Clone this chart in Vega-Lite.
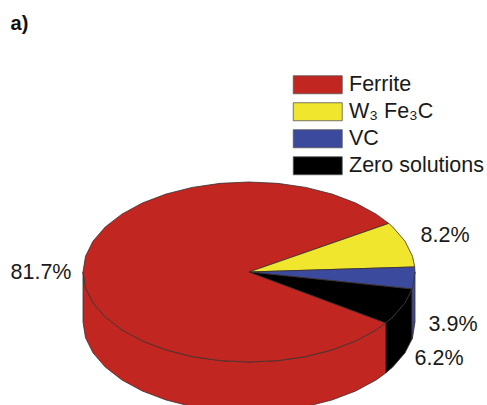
{"$schema":"https://vega.github.io/schema/vega-lite/v6.json","width":487,"height":405,"padding":0,"autosize":{"type":"fit","contains":"padding"},"background":"white","config":{"view":{"stroke":null},"font":"Liberation Sans"},
"layer":[
{"data":{"values":[
{"slice":"Ferrite","part":"side red","i":0,"x":-1,"y":0},{"slice":"Ferrite","part":"side red","i":1,"x":-0.985,"y":-0.174},{"slice":"Ferrite","part":"side red","i":2,"x":-0.94,"y":-0.342},{"slice":"Ferrite","part":"side red","i":3,"x":-0.866,"y":-0.5},{"slice":"Ferrite","part":"side red","i":4,"x":-0.766,"y":-0.643},{"slice":"Ferrite","part":"side red","i":5,"x":-0.643,"y":-0.766},{"slice":"Ferrite","part":"side red","i":6,"x":-0.5,"y":-0.866},{"slice":"Ferrite","part":"side red","i":7,"x":-0.342,"y":-0.94},{"slice":"Ferrite","part":"side red","i":8,"x":-0.174,"y":-0.985},{"slice":"Ferrite","part":"side red","i":9,"x":0,"y":-1},{"slice":"Ferrite","part":"side red","i":10,"x":0.174,"y":-0.985},{"slice":"Ferrite","part":"side red","i":11,"x":0.342,"y":-0.94},{"slice":"Ferrite","part":"side red","i":12,"x":0.5,"y":-0.866},{"slice":"Ferrite","part":"side red","i":13,"x":0.643,"y":-0.766},{"slice":"Ferrite","part":"side red","i":14,"x":0.766,"y":-0.643},{"slice":"Ferrite","part":"side red","i":15,"x":0.824,"y":-0.566},
{"slice":"Ferrite","part":"side red","i":16,"x":0.824,"y":-1.122},{"slice":"Ferrite","part":"side red","i":17,"x":0.766,"y":-1.199},{"slice":"Ferrite","part":"side red","i":18,"x":0.643,"y":-1.322},{"slice":"Ferrite","part":"side red","i":19,"x":0.5,"y":-1.422},{"slice":"Ferrite","part":"side red","i":20,"x":0.342,"y":-1.496},{"slice":"Ferrite","part":"side red","i":21,"x":0.174,"y":-1.541},{"slice":"Ferrite","part":"side red","i":22,"x":0,"y":-1.556},{"slice":"Ferrite","part":"side red","i":23,"x":-0.174,"y":-1.541},{"slice":"Ferrite","part":"side red","i":24,"x":-0.342,"y":-1.496},{"slice":"Ferrite","part":"side red","i":25,"x":-0.5,"y":-1.422},{"slice":"Ferrite","part":"side red","i":26,"x":-0.643,"y":-1.322},{"slice":"Ferrite","part":"side red","i":27,"x":-0.766,"y":-1.199},{"slice":"Ferrite","part":"side red","i":28,"x":-0.866,"y":-1.056},{"slice":"Ferrite","part":"side red","i":29,"x":-0.94,"y":-0.898},{"slice":"Ferrite","part":"side red","i":30,"x":-0.985,"y":-0.73},{"slice":"Ferrite","part":"side red","i":31,"x":-1,"y":-0.556},{"slice":"Ferrite","part":"side red","i":32,"x":-1,"y":0},
{"slice":"Zero solutions","part":"side black","i":0,"x":0.824,"y":-0.566},{"slice":"Zero solutions","part":"side black","i":1,"x":0.866,"y":-0.5},{"slice":"Zero solutions","part":"side black","i":2,"x":0.94,"y":-0.342},{"slice":"Zero solutions","part":"side black","i":3,"x":0.982,"y":-0.189},{"slice":"Zero solutions","part":"side black","i":4,"x":0.982,"y":-0.745},{"slice":"Zero solutions","part":"side black","i":5,"x":0.94,"y":-0.898},{"slice":"Zero solutions","part":"side black","i":6,"x":0.866,"y":-1.056},{"slice":"Zero solutions","part":"side black","i":7,"x":0.824,"y":-1.122},{"slice":"Zero solutions","part":"side black","i":8,"x":0.824,"y":-0.566},
{"slice":"VC","part":"side blue","i":0,"x":0.982,"y":-0.189},{"slice":"VC","part":"side blue","i":1,"x":1,"y":0},{"slice":"VC","part":"side blue","i":2,"x":1,"y":-0.556},{"slice":"VC","part":"side blue","i":3,"x":0.985,"y":-0.73},{"slice":"VC","part":"side blue","i":4,"x":0.982,"y":-0.745},{"slice":"VC","part":"side blue","i":5,"x":0.982,"y":-0.189},
{"slice":"Ferrite","part":"top red","i":0,"x":0,"y":0},{"slice":"Ferrite","part":"top red","i":1,"x":0.842,"y":0.54},{"slice":"Ferrite","part":"top red","i":2,"x":0.766,"y":0.643},{"slice":"Ferrite","part":"top red","i":3,"x":0.643,"y":0.766},{"slice":"Ferrite","part":"top red","i":4,"x":0.5,"y":0.866},{"slice":"Ferrite","part":"top red","i":5,"x":0.342,"y":0.94},{"slice":"Ferrite","part":"top red","i":6,"x":0.174,"y":0.985},{"slice":"Ferrite","part":"top red","i":7,"x":0,"y":1},{"slice":"Ferrite","part":"top red","i":8,"x":-0.174,"y":0.985},{"slice":"Ferrite","part":"top red","i":9,"x":-0.342,"y":0.94},{"slice":"Ferrite","part":"top red","i":10,"x":-0.5,"y":0.866},{"slice":"Ferrite","part":"top red","i":11,"x":-0.643,"y":0.766},{"slice":"Ferrite","part":"top red","i":12,"x":-0.766,"y":0.643},{"slice":"Ferrite","part":"top red","i":13,"x":-0.866,"y":0.5},{"slice":"Ferrite","part":"top red","i":14,"x":-0.94,"y":0.342},{"slice":"Ferrite","part":"top red","i":15,"x":-0.985,"y":0.174},{"slice":"Ferrite","part":"top red","i":16,"x":-1,"y":0},{"slice":"Ferrite","part":"top red","i":17,"x":-0.985,"y":-0.174},{"slice":"Ferrite","part":"top red","i":18,"x":-0.94,"y":-0.342},{"slice":"Ferrite","part":"top red","i":19,"x":-0.866,"y":-0.5},{"slice":"Ferrite","part":"top red","i":20,"x":-0.766,"y":-0.643},{"slice":"Ferrite","part":"top red","i":21,"x":-0.643,"y":-0.766},{"slice":"Ferrite","part":"top red","i":22,"x":-0.5,"y":-0.866},{"slice":"Ferrite","part":"top red","i":23,"x":-0.342,"y":-0.94},{"slice":"Ferrite","part":"top red","i":24,"x":-0.174,"y":-0.985},{"slice":"Ferrite","part":"top red","i":25,"x":0,"y":-1},{"slice":"Ferrite","part":"top red","i":26,"x":0.174,"y":-0.985},{"slice":"Ferrite","part":"top red","i":27,"x":0.342,"y":-0.94},{"slice":"Ferrite","part":"top red","i":28,"x":0.5,"y":-0.866},{"slice":"Ferrite","part":"top red","i":29,"x":0.643,"y":-0.766},{"slice":"Ferrite","part":"top red","i":30,"x":0.766,"y":-0.643},{"slice":"Ferrite","part":"top red","i":31,"x":0.824,"y":-0.566},{"slice":"Ferrite","part":"top red","i":32,"x":0,"y":0},
{"slice":"W₃ Fe₃C","part":"top yellow","i":0,"x":0,"y":0},{"slice":"W₃ Fe₃C","part":"top yellow","i":1,"x":0.998,"y":0.056},{"slice":"W₃ Fe₃C","part":"top yellow","i":2,"x":0.985,"y":0.174},{"slice":"W₃ Fe₃C","part":"top yellow","i":3,"x":0.94,"y":0.342},{"slice":"W₃ Fe₃C","part":"top yellow","i":4,"x":0.866,"y":0.5},{"slice":"W₃ Fe₃C","part":"top yellow","i":5,"x":0.842,"y":0.54},{"slice":"W₃ Fe₃C","part":"top yellow","i":6,"x":0,"y":0},
{"slice":"VC","part":"top blue","i":0,"x":0,"y":0},{"slice":"VC","part":"top blue","i":1,"x":0.982,"y":-0.189},{"slice":"VC","part":"top blue","i":2,"x":0.985,"y":-0.174},{"slice":"VC","part":"top blue","i":3,"x":1,"y":0},{"slice":"VC","part":"top blue","i":4,"x":0.998,"y":0.056},{"slice":"VC","part":"top blue","i":5,"x":0,"y":0},
{"slice":"Zero solutions","part":"top black","i":0,"x":0,"y":0},{"slice":"Zero solutions","part":"top black","i":1,"x":0.824,"y":-0.566},{"slice":"Zero solutions","part":"top black","i":2,"x":0.866,"y":-0.5},{"slice":"Zero solutions","part":"top black","i":3,"x":0.94,"y":-0.342},{"slice":"Zero solutions","part":"top black","i":4,"x":0.982,"y":-0.189},{"slice":"Zero solutions","part":"top black","i":5,"x":0,"y":0}
]},
"mark":{"type":"line","stroke":"#3a3030","strokeWidth":0.8,"clip":true},
"encoding":{
"x":{"field":"x","type":"quantitative","axis":null,"scale":{"domain":[-1.5,1.4337],"nice":false,"zero":false}},
"y":{"field":"y","type":"quantitative","axis":null,"scale":{"domain":[-1.4778,3.0222],"nice":false,"zero":false}},
"order":{"field":"i","type":"quantitative"},
"detail":{"field":"part"},
"fill":{"field":"slice","type":"nominal","scale":{"domain":["Ferrite","W₃ Fe₃C","VC","Zero solutions"],"range":["#c22620","#f0e62d","#3c4a9e","#000000"]},
"legend":{"title":null,"orient":"none","legendX":307,"legendY":74,"padding":0,"symbolType":"M-2.72,-1H2.72V1H-2.72Z","symbolSize":324,"symbolStrokeColor":"#555555","symbolStrokeWidth":0.8,"symbolOpacity":1,"labelFont":"Liberation Sans","labelFontSize":21.5,"labelColor":"#1a1a1a","labelOffset":20.5,"rowPadding":4,"labelLimit":200}}
}},
{"data":{"values":[
{"label":"81.7%","x":-1.253,"y":-0.011},{"label":"8.2%","x":1.181,"y":0.4},{"label":"3.9%","x":1.229,"y":-0.589},{"label":"6.2%","x":1.145,"y":-0.967}
]},
"mark":{"type":"text","fontSize":21.5,"font":"Liberation Sans","color":"#1a1a1a","align":"center","baseline":"middle"},
"encoding":{"x":{"field":"x","type":"quantitative"},"y":{"field":"y","type":"quantitative"},"text":{"field":"label"}}},
{"data":{"values":[{"label":"a)","x":-1.383,"y":2.756}]},
"mark":{"type":"text","fontSize":20,"fontWeight":"bold","font":"Liberation Sans","color":"#111111","align":"center","baseline":"middle"},
"encoding":{"x":{"field":"x","type":"quantitative"},"y":{"field":"y","type":"quantitative"},"text":{"field":"label"}}}
]}
